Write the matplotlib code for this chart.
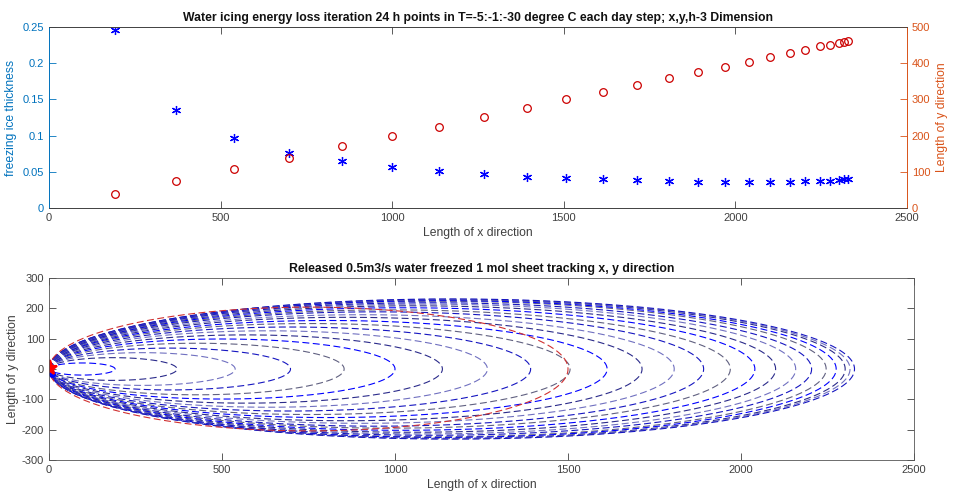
import matplotlib
matplotlib.use('Agg')
import matplotlib.pyplot as plt
import numpy as np

plt.rcParams['font.family'] = ['Liberation Sans', 'DejaVu Sans']
plt.rcParams['lines.scale_dashes'] = False
plt.rcParams['axes.unicode_minus'] = False

# distance along x at each day (m)
x_len = [191, 370, 538, 698, 853, 1000, 1137, 1267, 1392, 1506, 1613, 1714,
         1807, 1892, 1969, 2040, 2100, 2158, 2204, 2246, 2275, 2301, 2315, 2328]
# freezing ice thickness at each day
thickness = [0.246, 0.136, 0.097, 0.076, 0.065, 0.057, 0.051, 0.047, 0.043, 0.041,
             0.040, 0.039, 0.037, 0.036, 0.036, 0.036, 0.036, 0.036, 0.037, 0.037,
             0.038, 0.039, 0.040, 0.040]
# length along y at each day (m)
y_len = [40, 75, 108, 138, 170, 198, 225, 252, 277, 300, 320, 341,
         358, 377, 390, 404, 417, 428, 437, 447, 451, 457, 460, 462]
# highlighted track (red)
red_x_len = 1500
red_y_len = 408

top_title = ('Water icing energy loss iteration 24 h points in T=-5:-1:-30 degree C '
             'each day step; x,y,h-3 Dimension')
bot_title = 'Released 0.5m3/s water freezed 1 mol sheet tracking x, y direction'

mblue = '#0072BD'
morange = '#D95319'
grey = '#404040'

fig = plt.figure(figsize=(9.57, 4.94), dpi=100)

# ---- top panel
ax1 = fig.add_axes([0.0512, 0.5789, 0.8966, 0.3664])
ax2 = ax1.twinx()
ax1.plot(x_len, thickness, linestyle='none', marker=(6, 2, 0), color='b',
         markersize=6.5, markeredgewidth=0.9)
ax2.plot(x_len, y_len, 'o', color='#cc0000', markerfacecolor='none',
         markersize=5.5, markeredgewidth=0.9)
ax1.set_xlim(0, 2500)
ax1.set_ylim(0, 0.25)
ax2.set_ylim(0, 500)
ax1.set_xticks(np.arange(0, 2501, 500))
ax1.set_yticks([0, 0.05, 0.1, 0.15, 0.2, 0.25])
ax1.set_yticklabels(['0', '0.05', '0.1', '0.15', '0.2', '0.25'])
ax2.set_yticks(np.arange(0, 501, 100))
ax1.set_title(top_title, fontsize=8.8, fontweight='bold', pad=4, color='#111111')
ax1.set_xlabel('Length of x direction', fontsize=8.7, color=grey, labelpad=3)
ax1.set_ylabel('freezing ice thickness', fontsize=8.7, color=mblue, labelpad=4)
ax2.set_ylabel('Length of y direction', fontsize=8.7, color=morange, labelpad=4)
ax1.tick_params(axis='x', direction='in', top=True, length=5, width=0.6,
                labelsize=8, colors=grey)
ax1.tick_params(axis='y', direction='in', length=5, width=0.6, labelsize=8,
                colors=mblue)
ax2.tick_params(axis='y', direction='in', length=5, width=0.6, labelsize=8,
                colors=morange)
for a in (ax1, ax2):
    for s in a.spines.values():
        s.set_linewidth(0.6)
        s.set_color(grey)
    a.spines['left'].set_color(mblue)
    a.spines['right'].set_color(morange)

# ---- bottom panel
ax3 = fig.add_axes([0.0512, 0.0688, 0.9039, 0.3684])
t = np.linspace(0, 2 * np.pi, 600)
shades = ['#0000ff', '#2a2a8a', '#7070c0', '#1515c0', '#606080']
for i in range(len(x_len)):
    a = x_len[i] / 2.0
    b = y_len[i] / 2.0
    ax3.plot(a * (1 - np.cos(t)), b * np.sin(t), linestyle=(0, (5, 2.5)),
             color=shades[i % len(shades)], linewidth=0.8)
ra = red_x_len / 2.0
rb = red_y_len / 2.0
ax3.plot(ra * (1 - np.cos(t)), rb * np.sin(t), linestyle=(0, (5, 2.5)),
         color='#d03030', linewidth=0.8)
ax3.plot([8], [-15], 'o', color='b', markersize=4)
ax3.plot([2], [2], '*', color='r', markersize=11, markeredgewidth=1.5)

ax3.set_xlim(0, 2500)
ax3.set_ylim(-300, 300)
ax3.set_xticks(np.arange(0, 2501, 500))
ax3.set_yticks(np.arange(-300, 301, 100))
ax3.set_title(bot_title, fontsize=8.8, fontweight='bold', pad=4, color='#111111')
ax3.set_xlabel('Length of x direction', fontsize=8.7, color=grey, labelpad=3)
ax3.set_ylabel('Length of y direction', fontsize=8.7, color=grey, labelpad=2)
ax3.tick_params(direction='in', top=True, right=True, length=5, width=0.6,
                labelsize=8, colors=grey)
for s in ax3.spines.values():
    s.set_linewidth(0.6)
    s.set_color('#555555')

fig.savefig('out.png', dpi=100)
